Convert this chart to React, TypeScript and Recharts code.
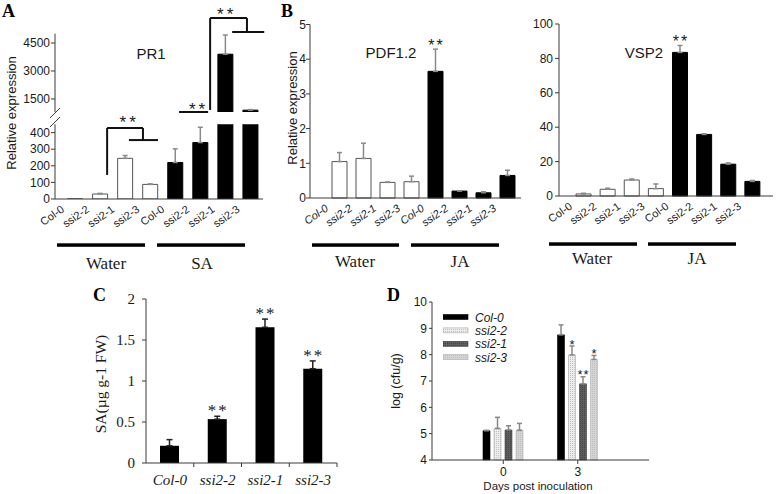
import React from 'react';
import {
  BarChart, Bar, XAxis, YAxis, ErrorBar, Cell, ReferenceLine, ReferenceDot, LabelList, Legend,
} from 'recharts';

const SANS = '"Liberation Sans", Arial, Helvetica, sans-serif';
const SERIF = '"Liberation Serif", "Times New Roman", Times, serif';
const INK = '#1a1a1a';
const AXIS = '#3a3a3a';
const ERR = '#8a8a8a';

// ---------------- data ----------------
const genotypes = ['Col-0', 'ssi2-2', 'ssi2-1', 'ssi2-3'];
const treatmentsA = ['Water', 'SA'];
const treatmentsB = ['Water', 'JA'];

// Panel A: PR1 (Water x4, SA x4)
const pr1Values = [1, 30, 245, 88, 220, 340, 3900, 900];
const pr1ErrTop = [1, 34, 262, 91, 302, 432, 4930, 930];
const pr1LowerTicks = [0, 100, 200, 300, 400];
const pr1UpperTicks = [1500, 3000, 4500];

// Panel B: PDF1.2 and VSP2 (Water x4, JA x4)
const pdf12Values = [1.05, 1.14, 0.45, 0.47, 3.65, 0.2, 0.15, 0.65];
const pdf12ErrTop = [1.31, 1.58, 0.46, 0.63, 4.29, 0.21, 0.18, 0.8];
const pdf12Sig = ['', '', '', '', '**', '', '', ''];
const pdf12Ticks = [0, 1, 2, 3, 4, 5];

const vsp2Values = [1.2, 3.9, 9.3, 4.3, 83.5, 35.8, 18.5, 8.5];
const vsp2ErrTop = [1.6, 4.5, 9.9, 7, 87.5, 36.2, 19.2, 9];
const vsp2Sig = ['', '', '', '', '**', '', '', ''];
const vsp2Ticks = [0, 20, 40, 60, 80, 100];

// Panel C: SA content
const saValues = [0.21, 0.535, 1.655, 1.15];
const saErrTop = [0.285, 0.57, 1.755, 1.245];
const saSig = ['', '**', '**', '**'];
const saTicks = [0, 0.5, 1, 1.5, 2];

// Panel D: bacterial growth
const days = ['0', '3'];
const cfuCol0 = [5.11, 8.75];
const cfuCol0Err = [5.13, 9.13];
const cfuSsi22 = [5.2, 7.99];
const cfuSsi22Err = [5.62, 8.33];
const cfuSsi21 = [5.14, 6.89];
const cfuSsi21Err = [5.3, 7.16];
const cfuSsi23 = [5.13, 7.82];
const cfuSsi23Err = [5.39, 7.97];
const cfuSig22 = ['', '*'];
const cfuSig21 = ['', '**'];
const cfuSig23 = ['', '*'];
const cfuTicks = [4, 5, 6, 7, 8, 9, 10];

// Panel A significance annotations (x = bar index, y = data value)
const pr1LowSegments = [
  [[1.28, 145], [1.28, 428]],
  [[1.28, 428], [2.71, 428]],
  [[2.71, 428], [2.71, 355]],
  [[2.15, 355], [3.31, 355]],
];
const pr1LowStars = [[2.1, 488]];
const pr1UpSegments = [
  [[4.15, 800], [5.31, 800]],
  [[5.39, 911], [5.39, 5839]],
  [[5.39, 5839], [6.86, 5839]],
  [[6.86, 5839], [6.86, 5089]],
  [[6.27, 5089], [7.55, 5089]],
];
const pr1UpStars = [[4.87, 1179], [5.99, 6268]];

// ---------------- derived tables ----------------
const labelsA = treatmentsA.flatMap(() => genotypes);
const pr1Lower = pr1Values.map((v, i) => ({ i, v, e: v <= 450 && i > 0 ? pr1ErrTop[i] : null }));
const pr1Upper = pr1Values.map((v, i) => ({ i, v: v > 800 ? v : null, e: v > 800 ? pr1ErrTop[i] : null }));

const keysB = treatmentsB.flatMap((t) => genotypes.map((g) => `${t}|${g}`));
const pdfData = keysB.map((k, i) => ({ k, v: pdf12Values[i], e: pdf12ErrTop[i], s: pdf12Sig[i] }));
const vspData = keysB.map((k, i) => ({ k, v: vsp2Values[i], e: vsp2ErrTop[i], s: vsp2Sig[i] }));
const saData = genotypes.map((g, i) => ({ g, v: saValues[i], e: saErrTop[i], s: saSig[i] }));
const cfuData = days.map((d, k) => ({
  day: d,
  c0: cfuCol0[k], c0e: cfuCol0Err[k], c0s: '',
  c22: cfuSsi22[k], c22e: cfuSsi22Err[k], c22s: cfuSig22[k],
  c21: cfuSsi21[k], c21e: cfuSsi21Err[k], c21s: cfuSig21[k],
  c23: cfuSsi23[k], c23e: cfuSsi23Err[k], c23s: cfuSig23[k],
}));

const cfuSeries = [
  { key: 'c0', name: genotypes[0], fill: '#000', stroke: '#000' },
  { key: 'c22', name: genotypes[1], fill: 'url(#pat22)', stroke: '#a8a8a8' },
  { key: 'c21', name: genotypes[2], fill: 'url(#pat21)', stroke: '#3c3c3c' },
  { key: 'c23', name: genotypes[3], fill: 'url(#pat23)', stroke: '#b0b0b0' },
];

const errOf = (vk: string, ek: string) => (d: any) =>
  d[vk] == null || d[ek] == null ? undefined : [0, Math.max(0, d[ek] - d[vk])];

// ---------------- helpers ----------------
function RotTick(props: any) {
  const { x, y, payload, fmt, italic } = props;
  const px = x - 10;
  const py = y + 12;
  return (
    <text x={px} y={py} transform={`rotate(-35 ${px} ${py})`} textAnchor="end" fontSize={11}
      fontFamily={SANS} fontStyle={italic ? 'italic' : 'normal'} fill={INK}>
      {fmt(payload.value)}
    </text>
  );
}

const makeStar = (base: number, fs: number, family: string, gap: number, mid: number, ls: number) =>
  (props: any) => {
    const val = props.value;
    if (!val || typeof val !== 'object' || !val.s) return null;
    const vb = props.viewBox || props;
    const x = vb.x ?? props.x;
    const y = vb.y ?? props.y;
    const w = vb.width ?? props.width;
    const h = vb.height ?? props.height;
    const ppu = h / (val.v - base);
    const topPx = y - (val.e - val.v) * ppu;
    const cy = topPx - gap;
    return (
      <text x={x + w / 2 + ls / 2} y={cy + mid * fs} textAnchor="middle" fontSize={fs}
        fontFamily={family} letterSpacing={ls} style={{ fill: INK }}>
        {val.s}
      </text>
    );
  };

const starShape = (fs: number) => (p: any) => (
  <text x={p.cx + 1.5} y={p.cy + 0.58 * fs} textAnchor="middle" fontSize={fs} fontFamily={SANS}
    letterSpacing={3} style={{ fill: INK }}>**</text>
);

const yTick = { fontSize: 12, fill: INK, fontFamily: SANS };

function CfuLegend(props: any) {
  const payload = [...(props.payload || [])].sort(
    (a: any, b: any) => genotypes.indexOf(a.value) - genotypes.indexOf(b.value),
  );
  return (
    <svg width={110} height={56} style={{ display: 'block' }}>
      {payload.map((p: any, k: number) => {
        const s = cfuSeries.find((c) => c.name === p.value);
        return (
          <g key={k}>
            <rect x={0} y={k * 13.4 + 3.5} width={25} height={5} fill={p.color}
              stroke={s ? s.stroke : 'none'} strokeWidth={0.6} />
            <text x={32} y={k * 13.4 + 10.5} fontSize={12} fontStyle="italic" fontFamily={SANS} fill={INK}>
              {p.value}
            </text>
          </g>
        );
      })}
    </svg>
  );
}

const SA_HALF_BAND = 191 / 8;
function SaTick(props: any) {
  const { x, y, payload } = props;
  return (
    <g>
      <line x1={x + SA_HALF_BAND} y1={y} x2={x + SA_HALF_BAND} y2={y + 4} stroke={AXIS} />
      <text x={x} y={y + 22} textAnchor="middle" fontFamily={SERIF} fontStyle="italic" fontSize={15} fill={INK}>
        {payload.value}
      </text>
    </g>
  );
}

const abs = (left: number, top: number): React.CSSProperties => ({ position: 'absolute', left, top });

export default function App() {
  return (
    <div style={{ position: 'absolute', left: 0, top: 0, width: 778, height: 494, background: '#fff', overflow: 'hidden' }}>
      {/* ---------- Panel A upper (broken axis) ---------- */}
      <div style={abs(0, 0)}>
        <BarChart width={265} height={126} data={pr1Upper} margin={{ top: 33.7, right: 2, left: 0, bottom: 14 }}>
          <XAxis type="number" dataKey="i" domain={[-0.8, 7.5]} hide allowDataOverflow />
          <YAxis domain={[800, 5000]} ticks={pr1UpperTicks} width={55} allowDataOverflow tickSize={4} tickMargin={1}
            tick={yTick} axisLine={{ stroke: AXIS }} tickLine={{ stroke: AXIS }} interval={0} />
          <Bar dataKey="v" barSize={15} isAnimationActive={false}>
            {pr1Upper.map((d, i) => (
              <Cell key={i} fill={i < 4 ? '#fff' : '#000'} stroke={i < 4 ? '#555' : '#000'} />
            ))}
            <ErrorBar dataKey={errOf('v', 'e')} width={2.5} stroke={ERR} direction="y" />
          </Bar>
          {pr1UpSegments.map((s, k) => (
            <ReferenceLine key={k} segment={[{ x: s[0][0], y: s[0][1] }, { x: s[1][0], y: s[1][1] }]}
              ifOverflow="visible" stroke="#111" strokeWidth={2} />
          ))}
          {pr1UpStars.map((s, k) => (
            <ReferenceDot key={k} x={s[0]} y={s[1]} r={0} ifOverflow="visible" shape={starShape(17)} />
          ))}
        </BarChart>
      </div>

      {/* ---------- Panel A lower ---------- */}
      <div style={abs(0, 100)}>
        <BarChart width={265} height={140} data={pr1Lower} margin={{ top: 24.3, right: 2, left: 0, bottom: 0 }}>
          <XAxis type="number" dataKey="i" domain={[-0.8, 7.5]} ticks={[0, 1, 2, 3, 4, 5, 6, 7]} interval={0}
            allowDataOverflow height={41} tickSize={0} tickMargin={0} tickLine={false} axisLine={{ stroke: AXIS }}
            tick={(p: any) => <RotTick {...p} fmt={(v: number) => labelsA[v]} />} />
          <YAxis domain={[0, 450]} ticks={pr1LowerTicks} width={55} allowDataOverflow tickSize={4} tickMargin={1}
            tick={yTick} axisLine={{ stroke: AXIS }} tickLine={{ stroke: AXIS }} interval={0} />
          <Bar dataKey="v" barSize={15} isAnimationActive={false}>
            {pr1Lower.map((d, i) => (
              <Cell key={i} fill={i < 4 ? '#fff' : '#000'} stroke={i < 4 ? '#555' : '#000'} />
            ))}
            <ErrorBar dataKey={errOf('v', 'e')} width={2.5} stroke={ERR} direction="y" />
          </Bar>
          {pr1LowSegments.map((s, k) => (
            <ReferenceLine key={k} segment={[{ x: s[0][0], y: s[0][1] }, { x: s[1][0], y: s[1][1] }]}
              ifOverflow="visible" stroke="#111" strokeWidth={2} />
          ))}
          {pr1LowStars.map((s, k) => (
            <ReferenceDot key={k} x={s[0]} y={s[1]} r={0} ifOverflow="visible" shape={starShape(17)} />
          ))}
        </BarChart>
      </div>

      {/* ---------- Panel B: PDF1.2 ---------- */}
      <div style={abs(296, 0)}>
        <BarChart width={228} height={238} data={pdfData} margin={{ top: 24.5, right: 3, left: 0, bottom: 0 }}>
          <XAxis dataKey="k" padding={{ left: 17, right: 2 }} height={40} tickSize={0} tickMargin={0} tickLine={false}
            interval={0} axisLine={{ stroke: AXIS }}
            tick={(p: any) => <RotTick {...p} italic fmt={(v: string) => String(v).split('|')[1]} />} />
          <YAxis domain={[0, 5]} ticks={pdf12Ticks} width={14} tickSize={4} tickMargin={0} tick={yTick}
            axisLine={{ stroke: AXIS }} tickLine={{ stroke: AXIS }} interval={0} />
          <Bar dataKey="v" barSize={15} isAnimationActive={false}>
            {pdfData.map((d, i) => (
              <Cell key={i} fill={i < 4 ? '#fff' : '#000'} stroke={i < 4 ? '#555' : '#000'} />
            ))}
            <ErrorBar dataKey={errOf('v', 'e')} width={2.5} stroke={ERR} direction="y" />
            <LabelList dataKey={(d: any) => ({ v: d.v, e: d.e, s: d.s })}
              content={makeStar(0, 16, SANS, 7, 0.58, 2)} />
          </Bar>
        </BarChart>
      </div>

      {/* ---------- Panel B: VSP2 ---------- */}
      <div style={abs(530, 0)}>
        <BarChart width={246} height={236} data={vspData} margin={{ top: 24, right: 3, left: 0, bottom: 0 }}>
          <XAxis dataKey="k" padding={{ left: 12, right: 9 }} height={40} tickSize={0} tickMargin={0} tickLine={false}
            interval={0} axisLine={{ stroke: AXIS }}
            tick={(p: any) => <RotTick {...p} fmt={(v: string) => String(v).split('|')[1]} />} />
          <YAxis domain={[0, 100]} ticks={vsp2Ticks} width={29} tickSize={4} tickMargin={2} tick={yTick}
            axisLine={{ stroke: AXIS }} tickLine={{ stroke: AXIS }} interval={0} />
          <Bar dataKey="v" barSize={15} isAnimationActive={false}>
            {vspData.map((d, i) => (
              <Cell key={i} fill={i < 4 ? '#fff' : '#000'} stroke={i < 4 ? '#555' : '#000'} />
            ))}
            <ErrorBar dataKey={errOf('v', 'e')} width={2.5} stroke={ERR} direction="y" />
            <LabelList dataKey={(d: any) => ({ v: d.v, e: d.e, s: d.s })}
              content={makeStar(0, 16, SANS, 8, 0.58, 2)} />
          </Bar>
        </BarChart>
      </div>

      {/* ---------- Panel C ---------- */}
      <div style={abs(110, 280)}>
        <BarChart width={229} height={213} data={saData} margin={{ top: 19, right: 2, left: 0, bottom: 0 }}>
          <XAxis dataKey="g" height={30} tickSize={0} tickMargin={0} tickLine={false} interval={0}
            axisLine={{ stroke: AXIS }} tick={(p: any) => <SaTick {...p} />} />
          <YAxis domain={[0, 2]} ticks={saTicks} width={36} tickSize={4} tickMargin={7} interval={0}
            tick={{ fontSize: 15, fill: INK, fontFamily: SERIF }} axisLine={{ stroke: AXIS }} tickLine={{ stroke: AXIS }} />
          <Bar dataKey="v" barSize={19} fill="#000" isAnimationActive={false}>
            <ErrorBar dataKey={errOf('v', 'e')} width={3} stroke="#222" direction="y" />
            <LabelList dataKey={(d: any) => ({ v: d.v, e: d.e, s: d.s })}
              content={makeStar(0, 17, SERIF, 9, 0.53, 2)} />
          </Bar>
        </BarChart>
      </div>

      {/* ---------- Panel D ---------- */}
      <div style={abs(400, 285)}>
        <BarChart width={254} height={197} data={cfuData} margin={{ top: 17, right: 5, left: 0, bottom: 0 }} barGap={4}>
          <defs>
            <pattern id="pat22" width={2} height={2} patternUnits="userSpaceOnUse">
              <rect width={2} height={2} fill="#ececec" />
              <rect x={0} y={0} width={1} height={1} fill="#c4c4c4" />
            </pattern>
            <pattern id="pat21" width={2} height={2} patternUnits="userSpaceOnUse">
              <rect width={2} height={2} fill="#5e5e5e" />
              <rect x={0} y={0} width={1} height={1} fill="#444" />
            </pattern>
            <pattern id="pat23" width={2} height={2} patternUnits="userSpaceOnUse">
              <rect width={2} height={2} fill="#d4d4d4" />
              <rect x={0} y={0} width={1} height={1} fill="#bdbdbd" />
            </pattern>
          </defs>
          <XAxis dataKey="day" padding={{ left: 34, right: 34 }} height={22} tickSize={4} tickMargin={3} interval={0}
            tick={yTick} axisLine={{ stroke: AXIS }} tickLine={{ stroke: AXIS }} />
          <YAxis domain={[4, 10]} ticks={cfuTicks} width={32} tickSize={3} tickMargin={2} interval={0}
            tick={yTick} axisLine={{ stroke: AXIS }} tickLine={{ stroke: AXIS }} />
          <Legend layout="vertical" align="center" verticalAlign="middle"
            wrapperStyle={{ left: 43, top: 26, width: 110, height: 56 }} content={(p: any) => <CfuLegend {...p} />} />
          {cfuSeries.map((s) => (
            <Bar key={s.key} dataKey={s.key} name={s.name} barSize={7} fill={s.fill} stroke={s.stroke}
              strokeWidth={0.6} isAnimationActive={false}>
              <ErrorBar dataKey={errOf(s.key, s.key + 'e')} width={2.5} stroke="#888" direction="y" />
              <LabelList dataKey={(d: any) => ({ v: d[s.key], e: d[s.key + 'e'], s: d[s.key + 's'] })}
                content={makeStar(4, 13, SANS, 5, 0.58, 1)} />
            </Bar>
          ))}
        </BarChart>
      </div>

      {/* ---------- decorations: panel letters, titles, axis titles, group bars ---------- */}
      <svg width={778} height={494} style={{ position: 'absolute', left: 0, top: 0, pointerEvents: 'none' }}>
        <g fontFamily={SERIF} fontWeight="bold" fontSize={18} fill="#000">
          <text x={2} y={17}>A</text>
          <text x={281} y={17}>B</text>
          <text x={93} y={301}>C</text>
          <text x={387} y={301}>D</text>
        </g>
        <g fontFamily={SANS} fontSize={15} fill={INK} textAnchor="middle">
          <text x={151} y={59}>PR1</text>
          <text x={391} y={58}>PDF1.2</text>
          <text x={644} y={58}>VSP2</text>
        </g>
        <g fontFamily={SANS} fontSize={13} fill={INK} textAnchor="middle">
          <text x={16} y={113} transform="rotate(-90 16 113)">Relative expression</text>
          <text x={296.5} y={108} transform="rotate(-90 296.5 108)">Relative expression</text>
          <text x={400} y={381} transform="rotate(-90 400 381)" fontSize={12.5}>log (cfu/g)</text>
          <text x={538} y={490} fontSize={11.5}>Days post inoculation</text>
        </g>
        <text x={106} y={384} transform="rotate(-90 106 384)" fontFamily={SERIF} fontSize={15.5} fill={INK}
          textAnchor="middle">SA(µg g-1 FW)</text>
        {/* axis break marks */}
        <g stroke={AXIS} strokeWidth={1}>
          <line x1={50} y1={118} x2={60} y2={108} />
          <line x1={50} y1={127} x2={60} y2={117} />
        </g>
        {/* treatment group bars */}
        <g fill="#000">
          <rect x={57} y={243.3} width={88} height={3.5} />
          <rect x={157} y={243.3} width={88} height={3.5} />
          <rect x={312} y={243.3} width={87} height={3.5} />
          <rect x={411} y={243.3} width={88} height={3.5} />
          <rect x={549} y={242.3} width={88} height={3.5} />
          <rect x={648} y={242.3} width={88} height={3.5} />
        </g>
        <g fontFamily={SERIF} fontSize={17} fill={INK} textAnchor="middle">
          <text x={106} y={269}>{treatmentsA[0]}</text>
          <text x={202} y={269}>{treatmentsA[1]}</text>
          <text x={355} y={267}>{treatmentsB[0]}</text>
          <text x={460} y={267}>{treatmentsB[1]}</text>
          <text x={592} y={264}>{treatmentsB[0]}</text>
          <text x={697} y={264}>{treatmentsB[1]}</text>
        </g>
      </svg>
    </div>
  );
}
